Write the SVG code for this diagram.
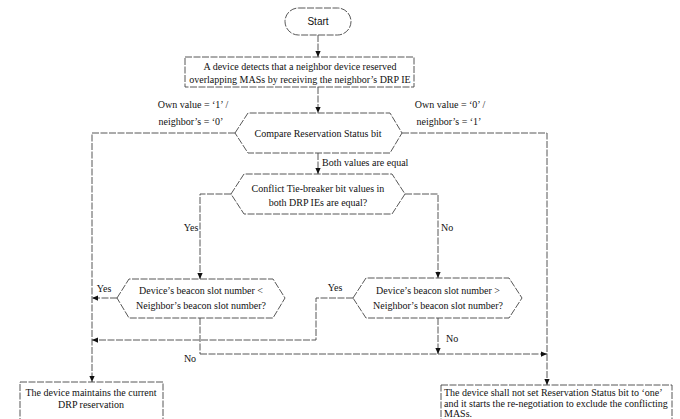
<svg xmlns="http://www.w3.org/2000/svg" width="680" height="419" viewBox="0 0 680 419">
<defs>
<marker id="ah" viewBox="0 0 8 8" refX="8" refY="4" markerWidth="6" markerHeight="6" orient="auto" markerUnits="userSpaceOnUse">
<path d="M0,0.5 L8,4 L0,7.5 z" fill="#111"/>
</marker>
<style>
.shape{fill:#fff;stroke:#444;stroke-width:0.9;stroke-dasharray:7 1.5}
.ln{fill:none;stroke:#444;stroke-width:0.9;stroke-dasharray:7 1.5}
.t{font-family:"Liberation Serif","Times New Roman",serif;font-size:10px;fill:#111}
.s{font-family:"Liberation Sans",Arial,sans-serif;font-size:10px;fill:#111}
.m{text-anchor:middle}
</style>
</defs>
<rect width="680" height="419" fill="#fff"/>
<g id="connectors">
<path class="ln" d="M318,35 V57" marker-end="url(#ah)"/>
<path class="ln" d="M318,87 V113" marker-end="url(#ah)"/>
<path class="ln" d="M235,133 H92 V382" marker-end="url(#ah)"/>
<path class="ln" d="M402,133 H547 V354"/>
<path class="ln" d="M318,153 V174" marker-end="url(#ah)"/>
<path class="ln" d="M231,194 H200 V279" marker-end="url(#ah)"/>
<path class="ln" d="M405,194 H438 V278" marker-end="url(#ah)"/>
<path class="ln" d="M117,298 H92" marker-end="url(#ah)"/>
<path class="ln" d="M353,298 H316 V340 H92" marker-end="url(#ah)"/>
<path class="ln" d="M200,318 V354"/>
<path class="ln" d="M438,318 V354" marker-end="url(#ah)"/>
<path class="ln" d="M200,354 H547" marker-end="url(#ah)"/>
<path class="ln" d="M547,354 V385" marker-end="url(#ah)"/>
</g>
<g id="labels">
<text class="t m" x="193" y="108">Own value = ‘1’ /</text>
<text class="t m" x="191" y="125">neighbor’s = ‘0’</text>
<text class="t m" x="450" y="108">Own value = ‘0’ /</text>
<text class="t m" x="449" y="125">neighbor’s = ‘1’</text>
<text class="t" x="322" y="166">Both values are equal</text>
<text class="t m" x="191" y="231">Yes</text>
<text class="t" x="441" y="231">No</text>
<text class="t m" x="104" y="292">Yes</text>
<text class="t m" x="335" y="291">Yes</text>
<text class="t" x="446" y="342">No</text>
<text class="t m" x="190" y="362">No</text>
</g>
<g id="start">
<rect class="shape" x="285" y="8" width="66" height="27" rx="13.5"/>
<text class="s m" x="318" y="25">Start</text>
</g>
<g id="detect">
<rect class="shape" x="185" y="57" width="229" height="30"/>
<text class="t m" x="300" y="70">A device detects that a neighbor device reserved</text>
<text class="t m" x="300" y="83">overlapping MASs by receiving the neighbor’s DRP IE</text>
</g>
<g id="compare">
<polygon class="shape" points="235,133 248,113 390,113 402,133 390,153 248,153"/>
<text class="t m" x="318" y="137">Compare Reservation Status bit</text>
</g>
<g id="tiebreaker">
<polygon class="shape" points="231,194 244,174 392,174 405,194 392,214 244,214"/>
<text class="t m" x="318" y="192">Conflict Tie-breaker bit values in</text>
<text class="t m" x="318" y="206">both DRP IEs are equal?</text>
</g>
<g id="less">
<polygon class="shape" points="117,298 129,279 273,279 285,298 273,318 129,318"/>
<text class="t m" x="201" y="294">Device’s beacon slot number &lt;</text>
<text class="t m" x="201" y="309">Neighbor’s beacon slot number?</text>
</g>
<g id="greater">
<polygon class="shape" points="353,298 366,278 509,278 522,298 509,318 366,318"/>
<text class="t m" x="438" y="294">Device’s beacon slot number &gt;</text>
<text class="t m" x="438" y="309">Neighbor’s beacon slot number?</text>
</g>
<g id="maintain">
<rect class="shape" x="20" y="382" width="143" height="40"/>
<text class="t m" x="91" y="396">The device maintains the current</text>
<text class="t m" x="91" y="408">DRP reservation</text>
</g>
<g id="renegotiate">
<rect class="shape" x="441" y="385" width="231" height="40"/>
<text class="t" x="444" y="396">The device shall not set Reservation Status bit to ‘one’</text>
<text class="t" x="444" y="406.5">and it starts the re-negotiation to exclude the  conflicting</text>
<text class="t" x="444" y="417">MASs.</text>
</g>
</svg>
